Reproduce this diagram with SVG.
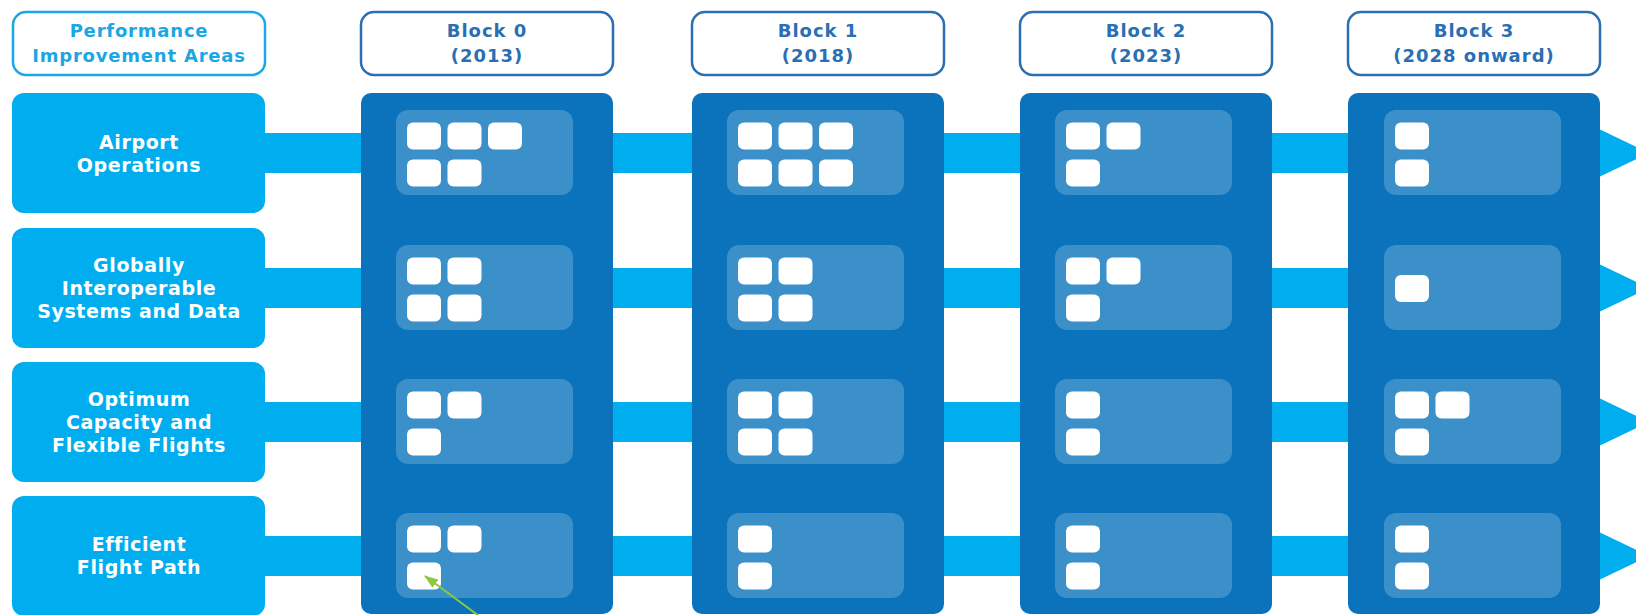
<svg xmlns="http://www.w3.org/2000/svg" width="1636" height="615" viewBox="0 0 1636 615">
<defs>
<style>
.hdrL{fill:#fff;stroke:#1ba6e4;stroke-width:2.5}
.hdrB{fill:#fff;stroke:#2a6fb3;stroke-width:2.5}
.tL{font-family:"DejaVu Sans",sans-serif;font-weight:bold;font-size:18px;fill:#1ba6e4;text-anchor:middle;letter-spacing:0.8px}
.tB{font-family:"DejaVu Sans",sans-serif;font-weight:bold;font-size:18px;fill:#2a6fb3;text-anchor:middle;letter-spacing:1px}
.area{fill:#00adee}
.tA{font-family:"DejaVu Sans",sans-serif;font-weight:bold;font-size:19px;fill:#fff;text-anchor:middle;letter-spacing:0.6px}
.blk{fill:#0b72bc}
.pan{fill:#3c90ca}
.sq{fill:#fff}
.bar{fill:#00adee}
.grn{stroke:#8dc63f;stroke-width:2;fill:none}
</style>
<marker id="ga" viewBox="0 0 14 10" refX="13" refY="5" markerWidth="14" markerHeight="10" markerUnits="userSpaceOnUse" orient="auto">
<path d="M0,0 L14,5 L0,10 Z" fill="#8dc63f"/>
</marker>
</defs>

<g id="connectors">
<rect class="bar" x="255" y="133" width="1350" height="40"/>
<rect class="bar" x="255" y="268" width="1350" height="40"/>
<rect class="bar" x="255" y="402" width="1350" height="40"/>
<rect class="bar" x="255" y="536" width="1350" height="40"/>
<polygon class="bar" points="1599,129 1649,153 1599,177"/>
<polygon class="bar" points="1599,264 1649,288 1599,312"/>
<polygon class="bar" points="1599,398 1649,422 1599,446"/>
<polygon class="bar" points="1599,532 1649,556 1599,580"/>
</g>

<g id="header-areas">
<rect class="hdrL" x="13" y="12" width="252" height="63" rx="13"/>
<text class="tL" x="139" y="37">Performance</text>
<text class="tL" x="139" y="62">Improvement Areas</text>
</g>
<g id="header-block0">
<rect class="hdrB" x="361" y="12" width="252" height="63" rx="13"/>
<text class="tB" x="487" y="37">Block 0</text>
<text class="tB" x="487" y="62">(2013)</text>
</g>
<g id="header-block1">
<rect class="hdrB" x="692" y="12" width="252" height="63" rx="13"/>
<text class="tB" x="818" y="37">Block 1</text>
<text class="tB" x="818" y="62">(2018)</text>
</g>
<g id="header-block2">
<rect class="hdrB" x="1020" y="12" width="252" height="63" rx="13"/>
<text class="tB" x="1146" y="37">Block 2</text>
<text class="tB" x="1146" y="62">(2023)</text>
</g>
<g id="header-block3">
<rect class="hdrB" x="1348" y="12" width="252" height="63" rx="13"/>
<text class="tB" x="1474" y="37">Block 3</text>
<text class="tB" x="1474" y="62">(2028 onward)</text>
</g>

<g id="area-airport">
<rect class="area" x="12" y="93" width="253" height="120" rx="12"/>
<text class="tA" x="139" y="149">Airport</text>
<text class="tA" x="139" y="172">Operations</text>
</g>
<g id="area-global">
<rect class="area" x="12" y="228" width="253" height="120" rx="12"/>
<text class="tA" x="139" y="272">Globally</text>
<text class="tA" x="139" y="295">Interoperable</text>
<text class="tA" x="139" y="318">Systems and Data</text>
</g>
<g id="area-capacity">
<rect class="area" x="12" y="362" width="253" height="120" rx="12"/>
<text class="tA" x="139" y="406">Optimum</text>
<text class="tA" x="139" y="429">Capacity and</text>
<text class="tA" x="139" y="452">Flexible Flights</text>
</g>
<g id="area-efficient">
<rect class="area" x="12" y="496" width="253" height="120" rx="12"/>
<text class="tA" x="139" y="551">Efficient</text>
<text class="tA" x="139" y="574">Flight Path</text>
</g>

<g id="block0">
<rect class="blk" x="361" y="93" width="252" height="521" rx="10"/>
<rect class="pan" x="396" y="110" width="177" height="85" rx="12"/>
<rect class="sq" x="407" y="122.5" width="34" height="27" rx="6"/>
<rect class="sq" x="447.5" y="122.5" width="34" height="27" rx="6"/>
<rect class="sq" x="488" y="122.5" width="34" height="27" rx="6"/>
<rect class="sq" x="407" y="159.5" width="34" height="27" rx="6"/>
<rect class="sq" x="447.5" y="159.5" width="34" height="27" rx="6"/>
<rect class="pan" x="396" y="245" width="177" height="85" rx="12"/>
<rect class="sq" x="407" y="257.5" width="34" height="27" rx="6"/>
<rect class="sq" x="447.5" y="257.5" width="34" height="27" rx="6"/>
<rect class="sq" x="407" y="294.5" width="34" height="27" rx="6"/>
<rect class="sq" x="447.5" y="294.5" width="34" height="27" rx="6"/>
<rect class="pan" x="396" y="379" width="177" height="85" rx="12"/>
<rect class="sq" x="407" y="391.5" width="34" height="27" rx="6"/>
<rect class="sq" x="447.5" y="391.5" width="34" height="27" rx="6"/>
<rect class="sq" x="407" y="428.5" width="34" height="27" rx="6"/>
<rect class="pan" x="396" y="513" width="177" height="85" rx="12"/>
<rect class="sq" x="407" y="525.5" width="34" height="27" rx="6"/>
<rect class="sq" x="447.5" y="525.5" width="34" height="27" rx="6"/>
<rect class="sq" x="407" y="562.5" width="34" height="27" rx="6"/>
</g>

<g id="block1">
<rect class="blk" x="692" y="93" width="252" height="521" rx="10"/>
<rect class="pan" x="727" y="110" width="177" height="85" rx="12"/>
<rect class="sq" x="738" y="122.5" width="34" height="27" rx="6"/>
<rect class="sq" x="778.5" y="122.5" width="34" height="27" rx="6"/>
<rect class="sq" x="819" y="122.5" width="34" height="27" rx="6"/>
<rect class="sq" x="738" y="159.5" width="34" height="27" rx="6"/>
<rect class="sq" x="778.5" y="159.5" width="34" height="27" rx="6"/>
<rect class="sq" x="819" y="159.5" width="34" height="27" rx="6"/>
<rect class="pan" x="727" y="245" width="177" height="85" rx="12"/>
<rect class="sq" x="738" y="257.5" width="34" height="27" rx="6"/>
<rect class="sq" x="778.5" y="257.5" width="34" height="27" rx="6"/>
<rect class="sq" x="738" y="294.5" width="34" height="27" rx="6"/>
<rect class="sq" x="778.5" y="294.5" width="34" height="27" rx="6"/>
<rect class="pan" x="727" y="379" width="177" height="85" rx="12"/>
<rect class="sq" x="738" y="391.5" width="34" height="27" rx="6"/>
<rect class="sq" x="778.5" y="391.5" width="34" height="27" rx="6"/>
<rect class="sq" x="738" y="428.5" width="34" height="27" rx="6"/>
<rect class="sq" x="778.5" y="428.5" width="34" height="27" rx="6"/>
<rect class="pan" x="727" y="513" width="177" height="85" rx="12"/>
<rect class="sq" x="738" y="525.5" width="34" height="27" rx="6"/>
<rect class="sq" x="738" y="562.5" width="34" height="27" rx="6"/>
</g>

<g id="block2">
<rect class="blk" x="1020" y="93" width="252" height="521" rx="10"/>
<rect class="pan" x="1055" y="110" width="177" height="85" rx="12"/>
<rect class="sq" x="1066" y="122.5" width="34" height="27" rx="6"/>
<rect class="sq" x="1106.5" y="122.5" width="34" height="27" rx="6"/>
<rect class="sq" x="1066" y="159.5" width="34" height="27" rx="6"/>
<rect class="pan" x="1055" y="245" width="177" height="85" rx="12"/>
<rect class="sq" x="1066" y="257.5" width="34" height="27" rx="6"/>
<rect class="sq" x="1106.5" y="257.5" width="34" height="27" rx="6"/>
<rect class="sq" x="1066" y="294.5" width="34" height="27" rx="6"/>
<rect class="pan" x="1055" y="379" width="177" height="85" rx="12"/>
<rect class="sq" x="1066" y="391.5" width="34" height="27" rx="6"/>
<rect class="sq" x="1066" y="428.5" width="34" height="27" rx="6"/>
<rect class="pan" x="1055" y="513" width="177" height="85" rx="12"/>
<rect class="sq" x="1066" y="525.5" width="34" height="27" rx="6"/>
<rect class="sq" x="1066" y="562.5" width="34" height="27" rx="6"/>
</g>

<g id="block3">
<rect class="blk" x="1348" y="93" width="252" height="521" rx="10"/>
<rect class="pan" x="1384" y="110" width="177" height="85" rx="12"/>
<rect class="sq" x="1395" y="122.5" width="34" height="27" rx="6"/>
<rect class="sq" x="1395" y="159.5" width="34" height="27" rx="6"/>
<rect class="pan" x="1384" y="245" width="177" height="85" rx="12"/>
<rect class="sq" x="1395" y="275" width="34" height="27" rx="6"/>
<rect class="pan" x="1384" y="379" width="177" height="85" rx="12"/>
<rect class="sq" x="1395" y="391.5" width="34" height="27" rx="6"/>
<rect class="sq" x="1435.5" y="391.5" width="34" height="27" rx="6"/>
<rect class="sq" x="1395" y="428.5" width="34" height="27" rx="6"/>
<rect class="pan" x="1384" y="513" width="177" height="85" rx="12"/>
<rect class="sq" x="1395" y="525.5" width="34" height="27" rx="6"/>
<rect class="sq" x="1395" y="562.5" width="34" height="27" rx="6"/>
</g>

<g id="pointer">
<line class="grn" x1="479" y1="616" x2="425" y2="576" marker-end="url(#ga)"/>
</g>
</svg>
